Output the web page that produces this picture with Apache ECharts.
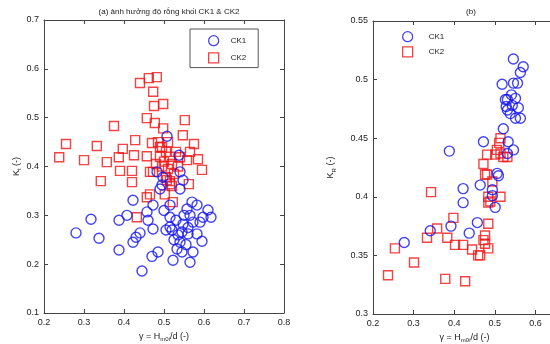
<!DOCTYPE html>
<html><head><meta charset="utf-8">
<script src="https://cdn.jsdelivr.net/npm/echarts@6/dist/echarts.min.js"></script>
<style>html,body{margin:0;padding:0;background:#fff}#c{width:550px;height:344px}</style>
</head><body><div id="c"></div>
<script>
// Left panel (a): K_t vs gamma
const ktCK1 = [[0.5075,0.462],[0.5375,0.423],[0.54,0.389],[0.5475,0.372],[0.4825,0.389],[0.495,0.362],[0.28,0.264],[0.3175,0.292],[0.3375,0.253],[0.3875,0.229],[0.3875,0.29],[0.4075,0.300],[0.4225,0.331],[0.4225,0.245],[0.43,0.255],[0.44,0.264],[0.46,0.29],[0.4725,0.272],[0.4575,0.307],[0.4725,0.321],[0.445,0.186],[0.47,0.216],[0.485,0.225],[0.49,0.354],[0.4975,0.378],[0.515,0.321],[0.515,0.296],[0.515,0.276],[0.5225,0.208],[0.5325,0.231],[0.54,0.245],[0.545,0.266],[0.5475,0.282],[0.54,0.354],[0.5575,0.313],[0.565,0.300],[0.57,0.327],[0.5825,0.321],[0.5725,0.286],[0.56,0.262],[0.5825,0.262],[0.595,0.247],[0.5725,0.225],[0.565,0.204],[0.59,0.286],[0.5975,0.296],[0.61,0.311],[0.6175,0.296],[0.525,0.25],[0.53,0.29],[0.55,0.30],[0.555,0.24],[0.56,0.275],[0.505,0.27],[0.52,0.27],[0.535,0.26],[0.545,0.225],[0.5,0.31]];
const ktCK2 = [[0.44,0.571],[0.462,0.581],[0.482,0.583],[0.473,0.553],[0.475,0.524],[0.498,0.528],[0.457,0.499],[0.477,0.489],[0.498,0.478],[0.552,0.495],[0.375,0.483],[0.255,0.446],[0.332,0.442],[0.238,0.419],[0.30,0.413],[0.357,0.409],[0.387,0.419],[0.428,0.454],[0.425,0.423],[0.457,0.421],[0.47,0.448],[0.547,0.464],[0.575,0.446],[0.565,0.430],[0.585,0.415],[0.595,0.393],[0.39,0.391],[0.42,0.391],[0.342,0.370],[0.42,0.368],[0.465,0.389],[0.562,0.364],[0.457,0.337],[0.465,0.343],[0.502,0.343],[0.522,0.327],[0.432,0.296],[0.515,0.364],[0.507,0.372],[0.397,0.436],[0.49,0.44],[0.5575,0.413],[0.54,0.419],[0.4725,0.389],[0.495,0.44],[0.505,0.43],[0.515,0.42],[0.50,0.41],[0.52,0.405],[0.51,0.395],[0.495,0.40],[0.525,0.385],[0.505,0.378],[0.515,0.37],[0.52,0.36],[0.49,0.42],[0.53,0.43],[0.485,0.45],[0.51,0.45],[0.48,0.405],[0.535,0.40]];
// Right panel (b): K_R vs gamma
const krCK1 = [[0.5457,0.5176],[0.570,0.511],[0.563,0.506],[0.518,0.496],[0.546,0.497],[0.556,0.497],[0.531,0.483],[0.551,0.484],[0.528,0.477],[0.543,0.478],[0.558,0.476],[0.538,0.471],[0.551,0.467],[0.563,0.467],[0.521,0.458],[0.472,0.447],[0.388,0.439],[0.533,0.447],[0.546,0.44],[0.531,0.437],[0.506,0.42],[0.509,0.418],[0.422,0.407],[0.464,0.41],[0.422,0.395],[0.494,0.401],[0.501,0.391],[0.392,0.375],[0.341,0.371],[0.457,0.378],[0.437,0.369],[0.277,0.361],[0.494,0.406],[0.531,0.474],[0.526,0.483],[0.541,0.487]];
const krCK2 = [[0.514,0.45],[0.511,0.446],[0.481,0.436],[0.472,0.428],[0.514,0.437],[0.531,0.434],[0.501,0.436],[0.476,0.419],[0.494,0.413],[0.484,0.40],[0.514,0.40],[0.484,0.395],[0.398,0.382],[0.484,0.377],[0.476,0.367],[0.472,0.363],[0.484,0.356],[0.444,0.355],[0.459,0.35],[0.422,0.359],[0.402,0.359],[0.383,0.365],[0.343,0.404],[0.358,0.373],[0.333,0.365],[0.254,0.356],[0.301,0.344],[0.237,0.333],[0.378,0.33],[0.427,0.328],[0.481,0.419],[0.489,0.396],[0.521,0.434],[0.464,0.35],[0.476,0.36],[0.505,0.44]];
const seriesNames = ['CK1','CK2'];
const titles = ['(a) ảnh hưởng độ rỗng khối CK1 & CK2','(b)'];
const xName = 'γ = H{s|m0i}/d (-)';
const yNames = ['K{s|t} (-)','K{s|R} (-)'];

const BLUE = '#1414f0', RED = '#f01414', AX = '#444';
const font = 'Arial, "Liberation Sans", sans-serif';
const rich = {s:{fontSize:6, padding:[6,0,0,0], fontFamily:font, color:'#222'}};
function xa(grid, min, max, top, namePad){
  return {type:'value', gridIndex:grid, min:min, max:max, interval:0.1, position: top?'top':'bottom',
    axisLine:{show:true, onZero:false, lineStyle:{color:AX, width:1}},
    axisTick:{show:true, inside:true, length:4, lineStyle:{color:AX}},
    splitLine:{show:false},
    axisLabel:{show:!top, fontSize:9, color:'#222', fontFamily:font, margin:5,
      formatter:v=>String(+v.toFixed(2))},
    name: top?'':xName, nameLocation:'middle', nameGap:17,
    nameTextStyle:{fontSize:9, color:'#222', fontFamily:font, rich:rich, padding:namePad||0}};
}
function ya(grid, min, max, interval, right, gap){
  return {type:'value', gridIndex:grid, min:min, max:max, interval:interval, position: right?'right':'left',
    axisLine:{show:true, onZero:false, lineStyle:{color:AX, width:1}},
    axisTick:{show:true, inside:true, length:4, lineStyle:{color:AX}},
    splitLine:{show:false},
    axisLabel:{show:!right, fontSize:9, color:'#222', fontFamily:font, margin:5,
      formatter:v=>String(+v.toFixed(2))},
    name: right?'':yNames[grid], nameLocation:'middle', nameGap:gap||21, nameRotate:90,
    nameTextStyle:{fontSize:9, color:'#222', fontFamily:font, rich:rich}};
}
function sc(name, data, xi, yi){
  const isC = name==='CK1';
  return {type:'scatter', name:name, xAxisIndex:xi, yAxisIndex:yi, data:data,
    symbol: isC?'circle':'rect', symbolSize: isC?10:9,
    itemStyle:{color:'rgba(0,0,0,0)', borderColor: isC?BLUE:RED, borderWidth:1.4},
    emphasis:{disabled:true}, z: isC?3:2};
}
const legendData = [
  {name:'CK1', icon:'circle', itemStyle:{color:'rgba(0,0,0,0)', borderColor:BLUE, borderWidth:1.3}},
  {name:'CK2', icon:'rect', itemStyle:{color:'rgba(0,0,0,0)', borderColor:RED, borderWidth:1.3}}
];
const chart = echarts.init(document.getElementById('c'), null, {renderer:'canvas'});
chart.setOption({
  animation:false,
  backgroundColor:'#fff',
  title:[
    {text:titles[0], left:164, top:3, textAlign:'center', textStyle:{fontSize:8, fontWeight:'normal', color:'#222', fontFamily:font}},
    {text:titles[1], left:466, top:3, textAlign:'center', textStyle:{fontSize:8, fontWeight:'normal', color:'#222', fontFamily:font}}
  ],
  legend:[
    {data:legendData, orient:'vertical', left:190, top:29, padding:[6,12,4,18], itemWidth:10, itemHeight:10, itemGap:6,
      borderColor:'#555', borderWidth:1, backgroundColor:'#fff', selectedMode:false,
      textStyle:{fontSize:8, color:'#222', fontFamily:font, padding:[0,0,0,7]}},
    {data:legendData, orient:'vertical', left:402, top:31, padding:0, itemWidth:10, itemHeight:10, itemGap:4, selectedMode:false,
      textStyle:{fontSize:8, color:'#222', fontFamily:font, padding:[0,0,0,11]}}
  ],
  grid:[
    {left:44, top:20, width:240, height:293, outerBoundsMode:'none', containLabel:false},
    {left:373, top:21, width:203, height:293, outerBoundsMode:'none', containLabel:false}
  ],
  xAxis:[xa(0,0.2,0.8,false), xa(0,0.2,0.8,true), xa(1,0.2,0.7,false,[0,20,0,0]), xa(1,0.2,0.7,true)],
  yAxis:[ya(0,0.1,0.7,0.1,false,21), ya(0,0.1,0.7,0.1,true), ya(1,0.3,0.55,0.05,false,36), ya(1,0.3,0.55,0.05,true)],
  series:[
    sc(seriesNames[1], ktCK2, 0, 0), sc(seriesNames[0], ktCK1, 0, 0),
    sc(seriesNames[1], krCK2, 2, 2), sc(seriesNames[0], krCK1, 2, 2)
  ]
});
</script></body></html>
